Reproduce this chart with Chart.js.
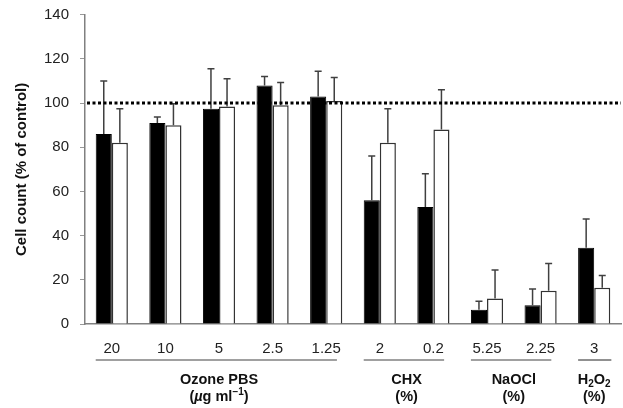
<!DOCTYPE html>
<html>
<head>
<meta charset="utf-8">
<script src="https://cdn.jsdelivr.net/npm/chart.js@4"></script>
<style>
  body { margin: 0; background: #fff; }
  #wrap { width: 623px; height: 408px; }
</style>
</head>
<body>
<div id="wrap"><canvas id="myChart" width="623" height="408"></canvas></div>
<script>
// values
const categories = ['20', '10', '5', '2.5', '1.25', '2', '0.2', '5.25', '2.25', '3'];
const blackValues = [86, 91, 97.5, 108, 103, 56, 53, 6.5, 8.5, 34.5];
const blackErrors = [24, 2.7, 18, 4, 11.4, 20, 15, 3.8, 7.3, 13];
const whiteValues = [82, 90, 98.5, 99, 101, 82, 88, 11.5, 15, 16.4];
const whiteErrors = [15.4, 9.7, 12.5, 10.3, 10.6, 15.4, 18, 13, 12.4, 5.6];
const yTicks = [0, 20, 40, 60, 80, 100, 120, 140];
const referenceLine = 100;

// treatment groups under the axis (first and last category index)
const groupFirst = [0, 5, 7, 9];
const groupLast = [4, 6, 8, 9];
const groupLabels = [
    [[{t: 'Ozone PBS'}], [{t: '('}, {t: 'µ', it: true}, {t: 'g ml'}, {t: '−1', sup: true}, {t: ')'}]],
    [[{t: 'CHX'}], [{t: '(%)'}]],
    [[{t: 'NaOCl'}], [{t: '(%)'}]],
    [[{t: 'H'}, {t: '2', sub: true}, {t: 'O'}, {t: '2', sub: true}], [{t: '(%)'}]]
];

const FONT = 'Arial, "Liberation Sans", sans-serif';

function drawRich(ctx, parts, cx, cy) {
    const size = 14.5;
    const fontOf = p => 'bold ' + (p.it ? 'italic ' : '') + ((p.sup || p.sub) ? 10 : size) + 'px ' + FONT;
    let total = 0;
    parts.forEach(p => { ctx.font = fontOf(p); total += ctx.measureText(p.t).width; });
    let x = cx - total / 2;
    ctx.textAlign = 'left';
    ctx.textBaseline = 'middle';
    parts.forEach(p => {
        ctx.font = fontOf(p);
        let y = cy;
        if (p.sup) y -= 5;
        if (p.sub) y += 4;
        ctx.fillText(p.t, x, y);
        x += ctx.measureText(p.t).width;
    });
}

const extras = {
    id: 'extras',
    afterDatasetsDraw(chart) {
        const ctx = chart.ctx;
        const y = chart.scales.y;
        const x = chart.scales.x;
        const area = chart.chartArea;

        // error bars (upper only)
        const errs = [blackErrors, whiteErrors];
        ctx.save();
        ctx.strokeStyle = '#404040';
        ctx.lineWidth = 1.5;
        chart.data.datasets.forEach((ds, di) => {
            chart.getDatasetMeta(di).data.forEach((bar, i) => {
                const top = y.getPixelForValue(ds.data[i] + errs[di][i]);
                ctx.beginPath();
                ctx.moveTo(bar.x, bar.y);
                ctx.lineTo(bar.x, top);
                ctx.moveTo(bar.x - 3.5, top);
                ctx.lineTo(bar.x + 3.5, top);
                ctx.stroke();
            });
        });

        // dotted 100 % line
        const py = y.getPixelForValue(referenceLine);
        ctx.strokeStyle = '#000';
        ctx.lineWidth = 3;
        ctx.setLineDash([3, 2.5]);
        ctx.beginPath();
        ctx.moveTo(area.left + 2, py);
        ctx.lineTo(area.right, py);
        ctx.stroke();
        ctx.setLineDash([]);

        // group lines and labels
        const step = x.getPixelForValue(1) - x.getPixelForValue(0);
        ctx.fillStyle = '#111';
        groupLabels.forEach((lines, g) => {
            const a = x.getPixelForValue(groupFirst[g]);
            const b = x.getPixelForValue(groupLast[g]);
            const last = g === groupLabels.length - 1;
            ctx.strokeStyle = last ? '#222' : '#808080';
            ctx.lineWidth = last ? 1 : 1.5;
            ctx.beginPath();
            ctx.moveTo(a - step * 0.3, 360);
            ctx.lineTo(b + step * (last ? 0.32 : 0.2), 360);
            ctx.stroke();
            const cx = (a + b) / 2;
            drawRich(ctx, lines[0], cx, 380);
            drawRich(ctx, lines[1], cx, 397);
        });
        ctx.restore();
    }
};

const ctx = document.getElementById('myChart').getContext('2d');
new Chart(ctx, {
    type: 'bar',
    data: {
        labels: categories,
        datasets: [{
            data: blackValues,
            backgroundColor: '#000',
            borderColor: '#000',
            borderWidth: 1
        }, {
            data: whiteValues,
            backgroundColor: '#fff',
            borderColor: '#333',
            borderWidth: 1.5
        }]
    },
    options: {
        responsive: false,
        animation: false,
        layout: { padding: { top: 13, right: 2, left: 0, bottom: 0 } },
        plugins: { legend: { display: false }, tooltip: { enabled: false } },
        datasets: { bar: { categoryPercentage: 0.6, barPercentage: 1.0 } },
        scales: {
            x: {
                grid: { display: false },
                border: { color: '#808080', width: 1.5 },
                ticks: { color: '#222', font: { family: FONT, size: 15 }, padding: 8 },
                afterFit(s) { s.height = 84; }
            },
            y: {
                min: 0,
                max: 140,
                afterBuildTicks(s) { s.ticks = yTicks.map(v => ({ value: v })); },
                grid: { drawOnChartArea: false, tickLength: 5, color: '#999', lineWidth: 1 },
                border: { color: '#808080', width: 1.5 },
                ticks: { color: '#222', font: { family: FONT, size: 15, lineHeight: 0.5 }, padding: 11 },
                title: {
                    display: true,
                    text: 'Cell count (% of control)',
                    color: '#111',
                    font: { family: FONT, size: 15, weight: 'bold' },
                    padding: { top: 13, bottom: 0 }
                },
                afterFit(s) { s.width = 85; }
            }
        }
    },
    plugins: [extras]
});
</script>
</body>
</html>
